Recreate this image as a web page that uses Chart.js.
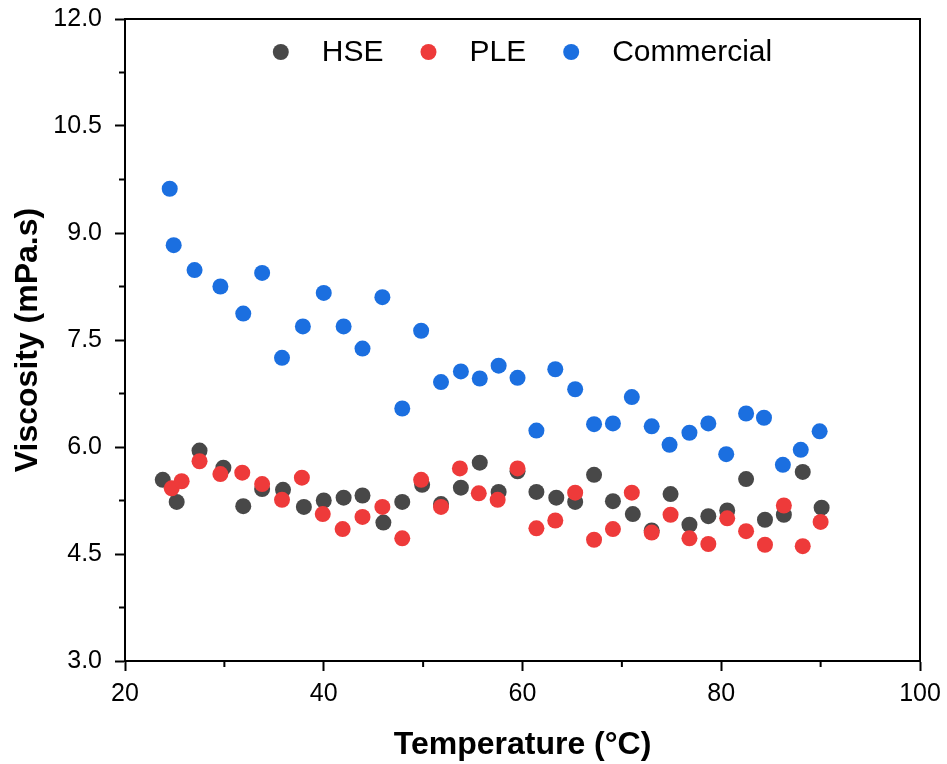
<!DOCTYPE html>
<html>
<head>
<meta charset="utf-8">
<title>Viscosity vs temperature</title>
<script src="https://cdn.jsdelivr.net/npm/chart.js@4.4.1/dist/chart.umd.min.js"></script>
<style>
  body { margin: 0; background: #fff; }
</style>
</head>
<body>
<canvas id="viscChart" width="947" height="764"></canvas>
<script>
// values
const hseTemp = [23.8, 25.2, 27.5, 29.9, 31.9, 33.8, 35.9, 38.0, 40.0, 42.0, 43.9, 46.0, 47.9, 49.9, 51.8, 53.8, 55.7, 57.6, 59.5, 61.4, 63.4, 65.3, 67.2, 69.1, 71.1, 73.0, 74.9, 76.8, 78.7, 80.6, 82.5, 84.4, 86.3, 88.2, 90.1];
const hseVisc = [5.54, 5.23, 5.95, 5.71, 5.17, 5.41, 5.40, 5.16, 5.25, 5.29, 5.32, 4.94, 5.23, 5.47, 5.20, 5.43, 5.78, 5.37, 5.66, 5.37, 5.29, 5.23, 5.61, 5.24, 5.06, 4.83, 5.34, 4.91, 5.03, 5.11, 5.55, 4.98, 5.05, 5.65, 5.15];

const pleTemp = [24.7, 25.7, 27.5, 29.6, 31.8, 33.8, 35.8, 37.8, 39.9, 41.9, 43.9, 45.9, 47.9, 49.8, 51.8, 53.7, 55.6, 57.5, 59.5, 61.4, 63.3, 65.3, 67.2, 69.1, 71.0, 73.0, 74.9, 76.8, 78.7, 80.6, 82.5, 84.4, 86.3, 88.2, 90.0];
const pleVisc = [5.42, 5.52, 5.80, 5.62, 5.64, 5.48, 5.26, 5.57, 5.06, 4.85, 5.02, 5.16, 4.72, 5.54, 5.16, 5.70, 5.35, 5.26, 5.70, 4.86, 4.97, 5.36, 4.70, 4.85, 5.36, 4.80, 5.05, 4.72, 4.64, 5.00, 4.82, 4.63, 5.18, 4.61, 4.95];

const commTemp = [24.5, 24.9, 27.0, 29.6, 31.9, 33.8, 35.8, 37.9, 40.0, 42.0, 43.9, 45.9, 47.9, 49.8, 51.8, 53.8, 55.7, 57.6, 59.5, 61.4, 63.3, 65.3, 67.2, 69.1, 71.0, 73.0, 74.8, 76.8, 78.7, 80.5, 82.5, 84.3, 86.2, 88.0, 89.9];
const commVisc = [9.62, 8.83, 8.48, 8.25, 7.87, 8.44, 7.25, 7.69, 8.16, 7.69, 7.38, 8.10, 6.54, 7.63, 6.91, 7.06, 6.96, 7.14, 6.97, 6.23, 7.09, 6.81, 6.32, 6.33, 6.70, 6.29, 6.03, 6.20, 6.33, 5.90, 6.47, 6.41, 5.75, 5.96, 6.22];

const seriesNames = ['HSE', 'PLE', 'Commercial'];
const minorX = [30, 50, 70, 90];
const minorY = [3.75, 5.25, 6.75, 8.25, 9.75, 11.25];

const FONT = '"Liberation Sans", Arial, sans-serif';

function toPoints(xs, ys) {
  return xs.map((x, i) => ({ x: x, y: ys[i] }));
}

// legend sits inside the plot, centred near the top
const insideLegend = {
  id: 'insideLegend',
  afterDatasetsDraw(chart) {
    const { ctx, chartArea } = chart;
    ctx.save();
    ctx.font = '30px ' + FONT;
    ctx.textBaseline = 'middle';
    const items = chart.data.datasets.map(ds => ({
      label: ds.label,
      color: ds.backgroundColor,
      w: ctx.measureText(ds.label).width
    }));
    const total = items.reduce((s, it) => s + 49 + it.w, 0) + 37 * (items.length - 1);
    let x = (chartArea.left + chartArea.right) / 2 - total / 2;
    const y = chartArea.top + 33;
    items.forEach(it => {
      ctx.fillStyle = it.color;
      ctx.beginPath();
      ctx.arc(x + 8, y, 8, 0, Math.PI * 2);
      ctx.fill();
      ctx.fillStyle = '#000';
      ctx.fillText(it.label, x + 49, y + 1);
      x += 49 + it.w + 37;
    });
    ctx.restore();
  }
};

// top/right frame lines and the short minor ticks
const frame = {
  id: 'frame',
  afterDraw(chart) {
    const { ctx, chartArea: a, scales } = chart;
    ctx.save();
    ctx.strokeStyle = '#000';
    ctx.lineWidth = 2;
    ctx.beginPath();
    ctx.moveTo(a.left, a.top);
    ctx.lineTo(a.right, a.top);
    ctx.lineTo(a.right, a.bottom);
    minorX.forEach(v => {
      const px = scales.x.getPixelForValue(v);
      ctx.moveTo(px, a.bottom);
      ctx.lineTo(px, a.bottom + 6);
    });
    minorY.forEach(v => {
      const py = scales.y.getPixelForValue(v);
      ctx.moveTo(a.left, py);
      ctx.lineTo(a.left - 6, py);
    });
    ctx.stroke();
    ctx.restore();
  }
};

const chart = new Chart(document.getElementById('viscChart'), {
  type: 'scatter',
  data: {
    datasets: [
      { label: seriesNames[0], data: toPoints(hseTemp, hseVisc), backgroundColor: '#484848', order: 3 },
      { label: seriesNames[1], data: toPoints(pleTemp, pleVisc), backgroundColor: '#ee3a3a', order: 2 },
      { label: seriesNames[2], data: toPoints(commTemp, commVisc), backgroundColor: '#1b6fe0', order: 1 }
    ]
  },
  options: {
    responsive: false,
    animation: false,
    elements: {
      point: { radius: 8, hoverRadius: 8, borderWidth: 0 }
    },
    layout: {
      padding: { left: 0, top: 19, right: 27, bottom: 0 }
    },
    plugins: {
      legend: { display: false },
      tooltip: { enabled: false }
    },
    scales: {
      x: {
        type: 'linear',
        min: 20,
        max: 100,
        ticks: {
          stepSize: 20,
          color: '#000',
          padding: 8,
          font: { family: FONT, size: 25 }
        },
        grid: { drawOnChartArea: false, tickLength: 10, tickWidth: 2, tickColor: '#000' },
        border: { display: true, color: '#000', width: 2 },
        title: {
          display: true,
          text: 'Temperature (°C)',
          color: '#000',
          padding: { top: 0, bottom: 0 },
          font: { family: FONT, size: 32, weight: 'bold' }
        },
        afterFit(scale) {
          scale.height = 103;
          scale.paddingLeft = 0;
          scale.paddingRight = 0;
        }
      },
      y: {
        min: 3,
        max: 12,
        ticks: {
          stepSize: 1.5,
          color: '#000',
          padding: 13,
          font: { family: FONT, size: 25 },
          callback: v => v.toFixed(1)
        },
        grid: { drawOnChartArea: false, tickLength: 10, tickWidth: 2, tickColor: '#000' },
        border: { display: true, color: '#000', width: 2 },
        title: {
          display: true,
          text: 'Viscosity (mPa.s)',
          color: '#000',
          padding: { top: 9, bottom: 0 },
          font: { family: FONT, size: 32, weight: 'bold' }
        },
        afterFit(scale) {
          scale.width = 125;
          scale.paddingTop = 0;
          scale.paddingBottom = 0;
        }
      }
    }
  },
  plugins: [insideLegend, frame]
});
</script>
</body>
</html>
